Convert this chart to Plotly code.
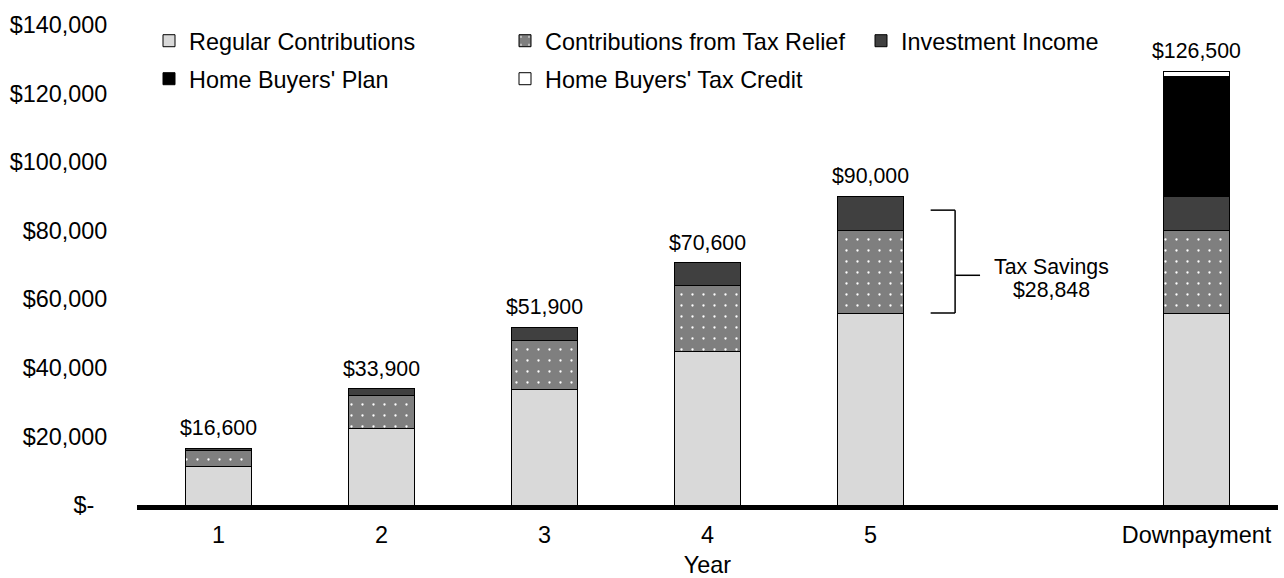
import plotly.graph_objects as go

# Savings build-up per year and at the downpayment
periods = ["1", "2", "3", "4", "5", "Downpayment"]
axis_slots = ["1", "2", "3", "4", "5", " ", "Downpayment"]

regular_contributions = [11200, 22400, 33600, 44800, 56000, 56000]
tax_relief = [4800, 9600, 14400, 19200, 24000, 24000]
investment_income = [600, 1900, 3900, 6600, 10000, 10000]
home_buyers_plan = [None, None, None, None, None, 35000]
home_buyers_credit = [None, None, None, None, None, 1500]

y_ticks = [0, 20000, 40000, 60000, 80000, 100000, 120000, 140000]
y_tick_text = ["$-\u00a0\u00a0"] + [f"${v:,}" for v in y_ticks[1:]]

tax_savings_label = ["Tax Savings", "$28,848"]

FONT = "Arial, Liberation Sans, sans-serif"
AXIS_SIZE = 23.4
LABEL_SIZE = 21.3
EDGE = dict(color="#000000", width=1)

series = [
    ("Regular Contributions", regular_contributions, dict(color="#d9d9d9"), "legend"),
    ("Contributions from Tax Relief", tax_relief,
     dict(color="#7f7f7f",
          pattern=dict(shape=".", fgcolor="#ffffff", bgcolor="#7f7f7f",
                       size=11, solidity=0.035, fillmode="replace")), "legend"),
    ("Investment Income", investment_income, dict(color="#404040"), "legend"),
    ("Home Buyers' Plan", home_buyers_plan, dict(color="#000000"), "legend2"),
    ("Home Buyers' Tax Credit", home_buyers_credit, dict(color="#ffffff"), "legend2"),
]

fig = go.Figure()
for name, values, marker, legend_id in series:
    fig.add_trace(go.Bar(
        name=name, x=periods, y=values,
        marker=dict(**marker, line=EDGE),
        legend=legend_id, hoverinfo="skip",
    ))

# Totals above each stack (annotations placed by category index)
totals = [
    sum(v for v in col if v is not None)
    for col in zip(regular_contributions, tax_relief, investment_income,
                   home_buyers_plan, home_buyers_credit)
]
for p, t in zip(periods, totals):
    fig.add_annotation(
        x=axis_slots.index(p), y=t, text=f"${t:,}", showarrow=False,
        yanchor="bottom", yshift=6,
        font=dict(family=FONT, size=LABEL_SIZE, color="#000000"),
    )

# Bracket marking the tax savings beside year 5
y_low = regular_contributions[4]
y_high = 86000
y_mid = 67000
bracket = dict(type="line", xref="x", yref="y", line=dict(color="#000000", width=1.5))
fig.add_shape(**bracket, x0=4.369, x1=4.519, y0=y_high, y1=y_high)
fig.add_shape(**bracket, x0=4.369, x1=4.519, y0=y_low, y1=y_low)
fig.add_shape(**bracket, x0=4.519, x1=4.519, y0=y_low, y1=y_high)
fig.add_shape(**bracket, x0=4.519, x1=4.672, y0=y_mid, y1=y_mid)
for line_text, y_pos in zip(tax_savings_label, [69300, 62700]):
    fig.add_annotation(
        x=5.11, y=y_pos, xref="x", yref="y", text=line_text, showarrow=False,
        font=dict(family=FONT, size=LABEL_SIZE, color="#000000"),
    )

legend_common = dict(
    orientation="h", xref="container", yref="container",
    xanchor="left", yanchor="middle",
    entrywidth=311, entrywidthmode="pixels",
    font=dict(family=FONT, size=AXIS_SIZE, color="#000000"),
    bgcolor="rgba(0,0,0,0)", borderwidth=0, itemclick=False,
    traceorder="normal",
)

fig.update_layout(
    width=1284, height=578,
    margin=dict(l=137, r=6, t=25, b=73, autoexpand=False),
    paper_bgcolor="#ffffff", plot_bgcolor="#ffffff",
    barmode="stack", bargap=0.6,
    font=dict(family=FONT, size=AXIS_SIZE, color="#000000"),
    showlegend=True,
    legend=dict(**legend_common, x=149 / 1284, y=1 - 41 / 578),
    legend2=dict(**legend_common, x=149 / 1284, y=1 - 79 / 578),
    xaxis=dict(
        type="category", categoryorder="array", categoryarray=axis_slots,
        range=[-0.5, len(axis_slots) - 0.5],
        showline=True, linecolor="#000000", linewidth=4.5,
        showgrid=False, zeroline=False,
        ticks="outside", ticklen=5, tickcolor="rgba(0,0,0,0)",
        tickfont=dict(family=FONT, size=AXIS_SIZE, color="#000000"),
        title=dict(text="Year", standoff=15,
                   font=dict(family=FONT, size=AXIS_SIZE, color="#000000")),
    ),
    yaxis=dict(
        range=[0, 140000], tickvals=y_ticks, ticktext=y_tick_text,
        showline=False, showgrid=False, zeroline=False,
        ticks="outside", ticklen=24, tickcolor="rgba(0,0,0,0)",
        tickfont=dict(family=FONT, size=AXIS_SIZE, color="#000000"),
    ),
)

fig.write_html("out.html")
